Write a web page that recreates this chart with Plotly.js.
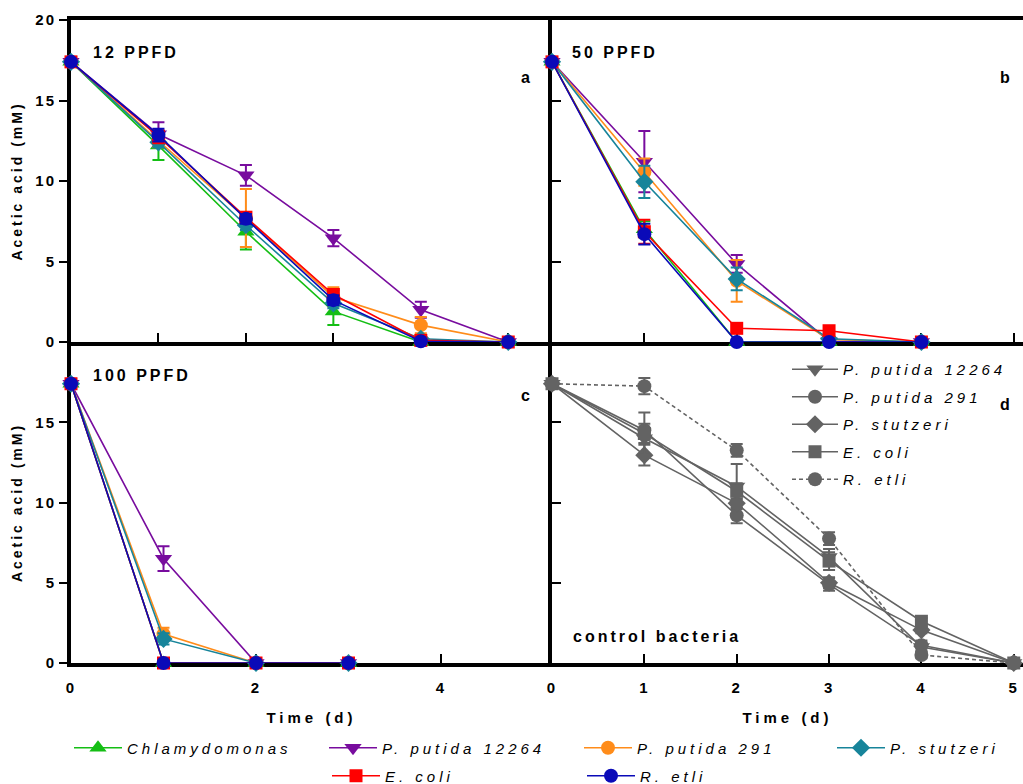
<!DOCTYPE html>
<html>
<head>
<meta charset="utf-8">
<script src="https://cdn.plot.ly/plotly-3.0.1.min.js"></script>
<style>
  html, body { margin: 0; padding: 0; background: #fff; }
  #chart { width: 1023px; height: 784px; }
  text.legendtext, g[class^="legend"] text, text[class*="legend"] { letter-spacing: 4px !important; }
  .annotation-text { letter-spacing: 3px; }
  .xtick text, .ytick text, .x3tick text, .y3tick text, .x4tick text { letter-spacing: 2px; }
  text.ytitle, text.y3title { letter-spacing: 3px; }
  text.x3title, text.x4title { letter-spacing: 4px; }
</style>
</head>
<body>
<div id="chart"></div>
<script>
// ---------------- data ----------------
const timeA = [0, 1, 2, 3, 4, 5];
const timeB = [0, 1, 2, 3, 4];
const timeC = [0, 1, 2, 3];
const timeD = [0, 1, 2, 3, 4, 5];

const seriesNames = ['Chlamydomonas', 'P. putida 12264', 'P. putida 291', 'P. stutzeri', 'E. coli', 'R. etli'];
const controlNames = ['P. putida 12264', 'P. putida 291', 'P. stutzeri', 'E. coli', 'R. etli'];

// Panel a: 12 PPFD
const chlamyA = [17.4, 12.2, 6.85, 1.9, 0.0, 0.0];
const chlamyAErr = [0, 0.9, 1.1, 0.85, 0, 0];
const put12264A = [17.4, 12.9, 10.35, 6.45, 2.0, 0.0];
const put12264AErr = [0, 0.75, 0.65, 0.5, 0.5, 0];
const put291A = [17.4, 12.5, 7.7, 2.8, 1.05, 0.0];
const put291AErr = [0, 0.4, 1.8, 0.6, 0.5, 0];
const stutzA = [17.4, 12.4, 7.25, 2.4, 0.2, 0.0];
const stutzAErr = [0, 0.3, 0.3, 0.3, 0, 0];
const ecoliA = [17.4, 12.75, 7.75, 2.95, 0.1, 0.0];
const ecoliAErr = [0, 0.4, 0.3, 0.3, 0, 0];
const etliA = [17.4, 12.85, 7.65, 2.6, 0.05, 0.0];
const etliAErr = [0, 0.4, 0.3, 0.3, 0, 0];

// Panel b: 50 PPFD
const chlamyB = [17.4, 7.0, 0, 0, 0];
const chlamyBErr = [0, 0.5, 0, 0, 0];
const put12264B = [17.4, 11.2, 4.85, 0.05, 0];
const put12264BErr = [0, 1.9, 0.55, 0, 0];
const put291B = [17.4, 10.55, 3.8, 0.15, 0];
const put291BErr = [0, 0.85, 1.3, 0, 0];
const stutzB = [17.4, 9.95, 3.92, 0.2, 0];
const stutzBErr = [0, 1.0, 0.7, 0, 0];
const ecoliB = [17.4, 6.85, 0.85, 0.7, 0];
const ecoliBErr = [0, 0.75, 0, 0, 0];
const etliB = [17.4, 6.7, 0, 0, 0];
const etliBErr = [0, 0.65, 0, 0, 0];

// Panel c: 100 PPFD
const chlamyC = [17.4, 0, 0, 0];
const chlamyCErr = [0, 0, 0, 0];
const put12264C = [17.4, 6.5, 0, 0];
const put12264CErr = [0, 0.77, 0, 0];
const put291C = [17.4, 1.8, 0, 0];
const put291CErr = [0, 0.4, 0, 0];
const stutzC = [17.4, 1.5, 0, 0];
const stutzCErr = [0, 0.35, 0, 0];
const ecoliC = [17.4, 0, 0, 0];
const ecoliCErr = [0, 0, 0, 0];
const etliC = [17.4, 0, 0, 0];
const etliCErr = [0, 0, 0, 0];

// Panel d: control bacteria
const put12264D = [17.4, 14.0, 11.0, 6.6, 1.0, 0];
const put12264DErr = [0, 0.3, 1.4, 0.5, 0.3, 0];
const put291D = [17.4, 14.5, 9.2, 4.9, 1.1, 0];
const put291DErr = [0, 0.4, 0.5, 0.4, 0.3, 0];
const stutzD = [17.4, 12.95, 9.95, 5.0, 2.05, 0];
const stutzDErr = [0, 0.65, 0.3, 0.35, 0.2, 0];
const ecoliD = [17.4, 14.3, 10.7, 6.35, 2.6, 0];
const ecoliDErr = [0, 1.3, 0.5, 0.55, 0.2, 0];
const etliD = [17.4, 17.25, 13.25, 7.75, 0.5, 0];
const etliDErr = [0, 0.5, 0.4, 0.4, 0.2, 0];

const yTicksA = [0, 5, 10, 15, 20];
const yTicksC = [0, 5, 10, 15];
const yTicksRight = [5, 10, 15];
const xTicksC = [0, 2, 4];

// ---------------- styles ----------------
const FONT = 'Liberation Sans, Arial, sans-serif';
const colors = ['#14be14', '#780c9e', '#ff8c1a', '#17849a', '#ff0000', '#0a0ab8'];
const symbols = ['triangle-up', 'triangle-down', 'circle', 'diamond', 'square', 'circle'];
const sizes = [15, 15, 14, 14, 13, 14];
const legendOf = ['legend', 'legend', 'legend', 'legend4', 'legend2', 'legend2'];
const GRAY = '#636363';

function mk(name, x, y, err, color, symbol, size, xa, ya, opts) {
  opts = opts || {};
  const t = {
    type: 'scatter', mode: 'lines+markers', name: name,
    x: x, y: y, xaxis: xa, yaxis: ya,
    line: { color: color, width: 1.6, dash: opts.dash || 'solid' },
    marker: { color: color, symbol: symbol, size: size, line: { width: 0 } },
    error_y: { type: 'data', array: err.map(e => e > 0 ? e : NaN), visible: true,
               color: color, thickness: 2, width: 6 },
    cliponaxis: false,
    showlegend: !!opts.legend,
    legend: opts.legend || 'legend',
    hoverinfo: 'x+y+name'
  };
  if (opts.group) t.legendgroup = opts.group;
  return t;
}

const panelA = [[chlamyA, chlamyAErr], [put12264A, put12264AErr], [put291A, put291AErr], [stutzA, stutzAErr], [ecoliA, ecoliAErr], [etliA, etliAErr]];
const panelB = [[chlamyB, chlamyBErr], [put12264B, put12264BErr], [put291B, put291BErr], [stutzB, stutzBErr], [ecoliB, ecoliBErr], [etliB, etliBErr]];
const panelC = [[chlamyC, chlamyCErr], [put12264C, put12264CErr], [put291C, put291CErr], [stutzC, stutzCErr], [ecoliC, ecoliCErr], [etliC, etliCErr]];
const panelD = [[put12264D, put12264DErr], [put291D, put291DErr], [stutzD, stutzDErr], [ecoliD, ecoliDErr], [etliD, etliDErr]];

const traces = [];
panelA.forEach((s, i) => traces.push(mk(seriesNames[i], timeA, s[0], s[1], colors[i], symbols[i], sizes[i], 'x', 'y',
  { legend: legendOf[i] })));
panelB.forEach((s, i) => traces.push(mk(seriesNames[i], timeB, s[0], s[1], colors[i], symbols[i], sizes[i], 'x2', 'y2')));
panelC.forEach((s, i) => traces.push(mk(seriesNames[i], timeC, s[0], s[1], colors[i], symbols[i], sizes[i], 'x3', 'y3')));
const dSymbols = ['triangle-down', 'circle', 'diamond', 'square', 'circle'];
const dSizes = [15, 14, 14, 13, 14];
panelD.forEach((s, i) => traces.push(mk(controlNames[i], timeD, s[0], s[1], GRAY, dSymbols[i], dSizes[i], 'x4', 'y4',
  { legend: 'legend3', dash: i === 4 ? '4px,3px' : 'solid', group: 'ctrl' + i })));

// ---------------- layout ----------------
const W = 1023, H = 784, ML = 71, MR = 0, MT = 20, MB = 121;
const PW = W - ML - MR, PH = H - MT - MB;
const px = v => (v - ML) / PW;
const py = v => (H - MB - v) / PH;
const xSplit = px(552);
const ySplit = py(342);

const tickFont = { family: FONT, size: 15, color: '#000', weight: 'bold' };
const baseAxis = {
  showline: true, linewidth: 4, linecolor: '#000', showgrid: false, zeroline: false,
  tickwidth: 2, ticklen: 9, tickcolor: '#000', tickfont: tickFont, layer: 'below traces',
  fixedrange: true
};
const titleFont = { family: FONT, size: 14, color: '#000', weight: 'bold' };
const xTitleFont = { family: FONT, size: 15, color: '#000', weight: 'bold' };
const legendFont = { family: FONT, size: 15, color: '#000', style: 'italic' };
const hLegend = (xPix, yPix) => ({
  orientation: 'h', x: px(xPix), xanchor: 'left', y: py(yPix), yanchor: 'middle',
  entrywidth: 192, entrywidthmode: 'pixels', itemwidth: 48,
  font: legendFont, bgcolor: 'rgba(0,0,0,0)', borderwidth: 0
});

const layout = {
  width: W, height: H,
  margin: { l: ML, r: MR, t: MT, b: MB, pad: 0, autoexpand: false },
  paper_bgcolor: '#fff', plot_bgcolor: 'rgba(0,0,0,0)',
  font: { family: FONT, color: '#000' },
  xaxis: Object.assign({}, baseAxis, { domain: [0, xSplit], anchor: 'y', range: [0, 5.5], dtick: 1, tick0: 0,
    ticks: 'inside', showticklabels: false, mirror: true }),
  yaxis: Object.assign({}, baseAxis, { domain: [ySplit, 1], anchor: 'x', range: [0, 20], tickvals: yTicksA,
    ticks: 'outside', ticklen: 8,
    title: { text: 'Acetic acid (mM)', font: titleFont, standoff: 10 } }),
  xaxis2: Object.assign({}, baseAxis, { domain: [xSplit, 1], anchor: 'y2', range: [0, 5.1], dtick: 1, tick0: 0,
    ticks: 'inside', showticklabels: false, mirror: true }),
  yaxis2: Object.assign({}, baseAxis, { domain: [ySplit, 1], anchor: 'x2', range: [0, 20], tickvals: yTicksRight,
    ticks: 'inside', showticklabels: false }),
  xaxis3: Object.assign({}, baseAxis, { domain: [0, xSplit], anchor: 'y3', range: [0, 5.2], tickvals: xTicksC,
    ticks: 'inside', ticklabelstandoff: 8,
    title: { text: 'Time (d)', font: xTitleFont, standoff: 18 } }),
  yaxis3: Object.assign({}, baseAxis, { domain: [0, ySplit], anchor: 'x3', range: [0, 20], tickvals: yTicksC,
    ticks: 'outside', ticklen: 8,
    title: { text: 'Acetic acid (mM)', font: titleFont, standoff: 10 } }),
  xaxis4: Object.assign({}, baseAxis, { domain: [xSplit, 1], anchor: 'y4', range: [0, 5.1], dtick: 1, tick0: 0,
    ticks: 'inside', ticklabelstandoff: 8,
    title: { text: 'Time (d)', font: xTitleFont, standoff: 18 } }),
  yaxis4: Object.assign({}, baseAxis, { domain: [0, ySplit], anchor: 'x4', range: [0, 20], tickvals: yTicksRight,
    ticks: 'inside', showticklabels: false }),
  legend: hLegend(69, 748),
  legend4: hLegend(832, 748),
  legend2: hLegend(327, 776),
  legend3: {
    orientation: 'v', x: px(787), xanchor: 'left', y: py(353), yanchor: 'top',
    itemwidth: 46, tracegroupgap: 5, traceorder: 'grouped',
    font: legendFont, bgcolor: 'rgba(0,0,0,0)', borderwidth: 0
  },
  annotations: [
    { text: '12 PPFD', x: px(91), y: py(53), xanchor: 'left' },
    { text: 'a', x: px(527), y: py(77), xanchor: 'center' },
    { text: '50 PPFD', x: px(570), y: py(53), xanchor: 'left' },
    { text: 'b', x: px(1006), y: py(77), xanchor: 'center' },
    { text: '100 PPFD', x: px(91), y: py(375), xanchor: 'left' },
    { text: 'c', x: px(527), y: py(395), xanchor: 'center' },
    { text: 'd', x: px(1006), y: py(404), xanchor: 'center' },
    { text: 'control bacteria', x: px(571), y: py(636), xanchor: 'left' }
  ].map(a => Object.assign({ xref: 'paper', yref: 'paper', yanchor: 'middle', showarrow: false,
    font: { family: FONT, size: 16, color: '#000', weight: 'bold' } }, a)),
  hovermode: 'closest'
};

function spaceLegendText(gd) {
  gd.querySelectorAll('g.infolayer text').forEach(t => {
    let p = t.parentNode, inLegend = false;
    while (p && p !== gd) {
      const c = (p.getAttribute && p.getAttribute('class')) || '';
      if (/^legend\d*$/.test(c) || /(^|\s)legend\d*(\s|$)/.test(c)) { inLegend = true; break; }
      p = p.parentNode;
    }
    if (inLegend) t.style.letterSpacing = '4px';
  });
}

Plotly.newPlot('chart', traces, layout, { displayModeBar: false, responsive: false }).then(gd => {
  spaceLegendText(gd);
  setTimeout(() => spaceLegendText(gd), 0);
});
</script>
</body>
</html>
